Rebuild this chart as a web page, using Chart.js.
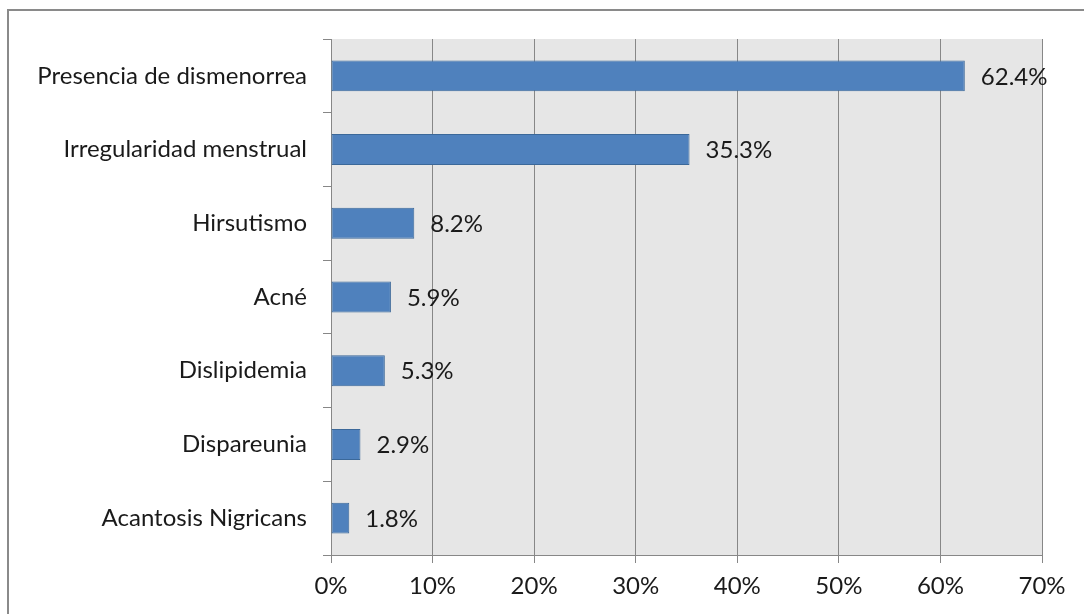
<!DOCTYPE html>
<html>
<head>
<meta charset="utf-8">
<script src="https://cdn.jsdelivr.net/npm/chart.js@4"></script>
<style>
  html, body { margin: 0; padding: 0; background: #fff; }
  #wrap { position: relative; width: 1084px; height: 614px; overflow: hidden; }
  #frame { position: absolute; left: 7px; top: 9px; width: 1100px; height: 700px;
           border-left: 2px solid #8a8a8a; border-top: 2px solid #8a8a8a; box-sizing: border-box; }
  canvas { position: absolute; left: 0; top: 0; }
</style>
</head>
<body>
<div id="wrap">
  <div id="frame"></div>
  <canvas id="chart" width="1084" height="614"></canvas>
</div>
<script>
/* --------------- Data --------------------- */
const categories = [
    "Presencia de dismenorrea",
    "Irregularidad menstrual",
    "Hirsutismo",
    "Acné",
    "Dislipidemia",
    "Dispareunia",
    "Acantosis Nigricans"
];
const values = [62.4, 35.3, 8.2, 5.9, 5.3, 2.9, 1.8];
const tickLabels = ["0%", "10%", "20%", "30%", "40%", "50%", "60%", "70%"];

const FONT = "Lato";
const FONT_SIZE = 24;

/* --------------- Plot background --------------------- */
const plotBg = {
    id: "plotBg",
    beforeDraw(chart) {
        const a = chart.chartArea;
        const ctx = chart.ctx;
        ctx.save();
        ctx.fillStyle = "#e6e6e6";
        ctx.fillRect(a.left, a.top, a.right - a.left, a.bottom - a.top);
        ctx.restore();
    }
};

/* --------------- Value labels at bar ends --------------------- */
const barLabels = {
    id: "barLabels",
    afterDatasetsDraw(chart) {
        const ctx = chart.ctx;
        const meta = chart.getDatasetMeta(0);
        ctx.save();
        ctx.font = FONT_SIZE + "px " + FONT;
        ctx.fillStyle = "#1a1a1a";
        ctx.textAlign = "left";
        ctx.textBaseline = "middle";
        meta.data.forEach((bar, i) => {
            ctx.fillText(values[i].toFixed(1) + "%", bar.x + 16, bar.y + 1);
        });
        ctx.restore();
    }
};

/* --------------- Chart --------------------- */
new Chart(document.getElementById("chart"), {
    type: "bar",
    plugins: [plotBg, barLabels],
    data: {
        labels: categories,
        datasets: [{
            data: values,
            backgroundColor: "#4f81bd",
            borderColor: "#3b6899",
            borderWidth: 1,
            borderSkipped: false,
            barPercentage: 0.42,
            categoryPercentage: 1
        }]
    },
    options: {
        indexAxis: "y",
        responsive: false,
        animation: false,
        layout: { padding: { left: 0, right: 42, top: 39, bottom: 0 } },
        plugins: { legend: { display: false }, tooltip: { enabled: false } },
        scales: {
            x: {
                min: 0,
                max: 70,
                ticks: {
                    stepSize: 10,
                    padding: 9,
                    color: "#1a1a1a",
                    font: { family: FONT, size: FONT_SIZE },
                    callback: (v, i) => tickLabels[i]
                },
                grid: { color: "#878787", lineWidth: 1, tickLength: 8 },
                border: { color: "#878787", width: 1 },
                afterFit: s => { s.height = 59; }
            },
            y: {
                ticks: {
                    padding: 16,
                    color: "#1a1a1a",
                    font: { family: FONT, size: FONT_SIZE }
                },
                grid: { drawOnChartArea: false, color: "#878787", tickLength: 8, offset: true },
                border: { color: "#878787", width: 1 },
                afterFit: s => { s.width = 331; }
            }
        }
    }
});
</script>
</body>
</html>
